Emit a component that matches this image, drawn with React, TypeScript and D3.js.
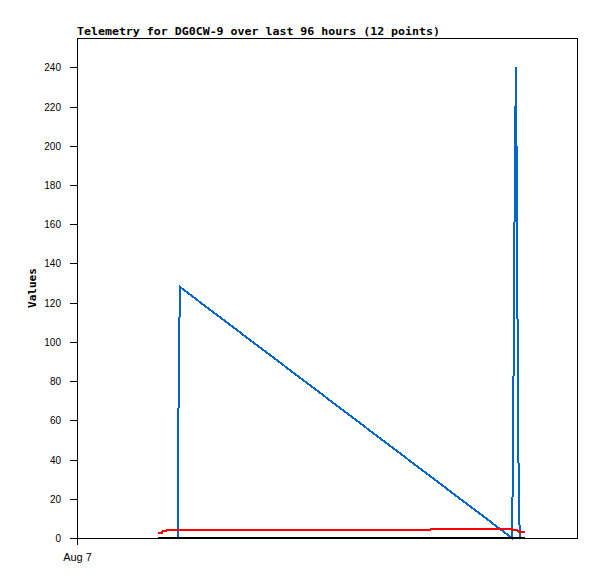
import { useEffect, useRef } from "react";
import * as d3 from "d3";

// hours after Aug 7 00:00
const blueHours = [19.3, 19.39, 19.58, 19.78, 83.52, 83.71, 83.9, 84.1, 84.29, 84.48, 84.67, 84.86, 85.06];
const blueValues = [0, 32, 96, 128, 0, 40, 120, 200, 240, 160, 66, 14, 0];

const redHours = [15.55, 16.3, 16.4, 17.1, 17.2, 35.7, 35.8, 67.9, 68.0, 83.5, 83.7, 84.5, 84.7, 86.0];
const redValues = [2.7, 2.7, 3.4, 3.4, 3.9, 3.9, 4.3, 4.3, 4.7, 4.7, 4.1, 4.1, 3.3, 3.3];

const blackHours = [15.55, 86.0];
const blackValues = [0, 0];

const yTicks = [0, 20, 40, 60, 80, 100, 120, 140, 160, 180, 200, 220, 240];
const xTickHours = [0];
const xTickLabels = ["Aug 7"];

const W = 597;
const H = 579;

export default function App() {
  const ref = useRef<SVGSVGElement | null>(null);

  useEffect(() => {
    const svg = d3.select(ref.current);
    svg.selectAll("*").remove();

    const m = { t: 38, r: 20, b: 41, l: 77 };
    const x = d3.scaleLinear().domain([0, 96]).range([m.l, W - m.r]);
    const y = d3.scaleLinear().domain([0, 255]).range([H - m.b, m.t]);

    const g = svg.append("g");

    // frame
    g.append("rect")
      .attr("x", m.l + 0.5)
      .attr("y", m.t + 0.5)
      .attr("width", W - m.r - m.l)
      .attr("height", H - m.b - m.t)
      .attr("fill", "none")
      .attr("stroke", "#000")
      .attr("shape-rendering", "crispEdges");

    // y ticks
    yTicks.forEach((tv) => {
      const yy = Math.round(y(tv)) + 0.5;
      g.append("line")
        .attr("x1", m.l - 7)
        .attr("x2", m.l)
        .attr("y1", yy)
        .attr("y2", yy)
        .attr("stroke", "#000")
        .attr("shape-rendering", "crispEdges");
      g.append("text")
        .attr("x", m.l - 16)
        .attr("y", yy + 3.5)
        .attr("text-anchor", "end")
        .attr("font-family", "Liberation Sans, Arial, sans-serif")
        .attr("font-size", 10)
        .attr("fill", "#000")
        .text(tv);
    });

    // x ticks
    xTickHours.forEach((hv, i) => {
      const xx = Math.round(x(hv)) + 0.5;
      g.append("line")
        .attr("x1", xx)
        .attr("x2", xx)
        .attr("y1", H - m.b)
        .attr("y2", H - m.b + 7)
        .attr("stroke", "#000")
        .attr("shape-rendering", "crispEdges");
      g.append("text")
        .attr("x", xx)
        .attr("y", H - m.b + 23)
        .attr("text-anchor", "middle")
        .attr("font-family", "Liberation Sans, Arial, sans-serif")
        .attr("font-size", 11)
        .attr("fill", "#000")
        .text(xTickLabels[i]);
    });

    const line = d3
      .line<[number, number]>()
      .x((d) => x(d[0]))
      .y((d) => y(d[1]));

    const series = [
      { h: blueHours, v: blueValues, c: "#0066cc" },
      { h: redHours, v: redValues, c: "#ff0000" },
      { h: blackHours, v: blackValues, c: "#000000" },
    ];
    series.forEach((s) => {
      const pts = s.h.map((hv, i) => [hv, s.v[i]] as [number, number]);
      g.append("path")
        .datum(pts)
        .attr("fill", "none")
        .attr("stroke", s.c)
        .attr("stroke-width", 2)
        .attr("stroke-linejoin", "miter")
        .attr("shape-rendering", "crispEdges")
        .attr("d", line);
    });

    // title
    svg.append("text")
      .attr("x", m.l)
      .attr("y", 35)
      .attr("font-family", "DejaVu Sans Mono, monospace")
      .attr("font-weight", "bold")
      .attr("font-size", 10.5)
      .attr("textLength", 363)
      .attr("lengthAdjust", "spacingAndGlyphs")
      .attr("fill", "#000")
      .text("Telemetry for DG0CW-9 over last 96 hours (12 points)");

    // y label
    svg.append("text")
      .attr("transform", `translate(36,${(m.t + H - m.b) / 2}) rotate(-90)`)
      .attr("text-anchor", "middle")
      .attr("font-family", "DejaVu Sans Mono, monospace")
      .attr("font-weight", "bold")
      .attr("font-size", 11)
      .attr("fill", "#000")
      .text("Values");
  }, []);

  return (
    <svg
      ref={ref}
      width={W}
      height={H}
      style={{ position: "absolute", left: 0, top: 0, background: "#fff" }}
    />
  );
}
